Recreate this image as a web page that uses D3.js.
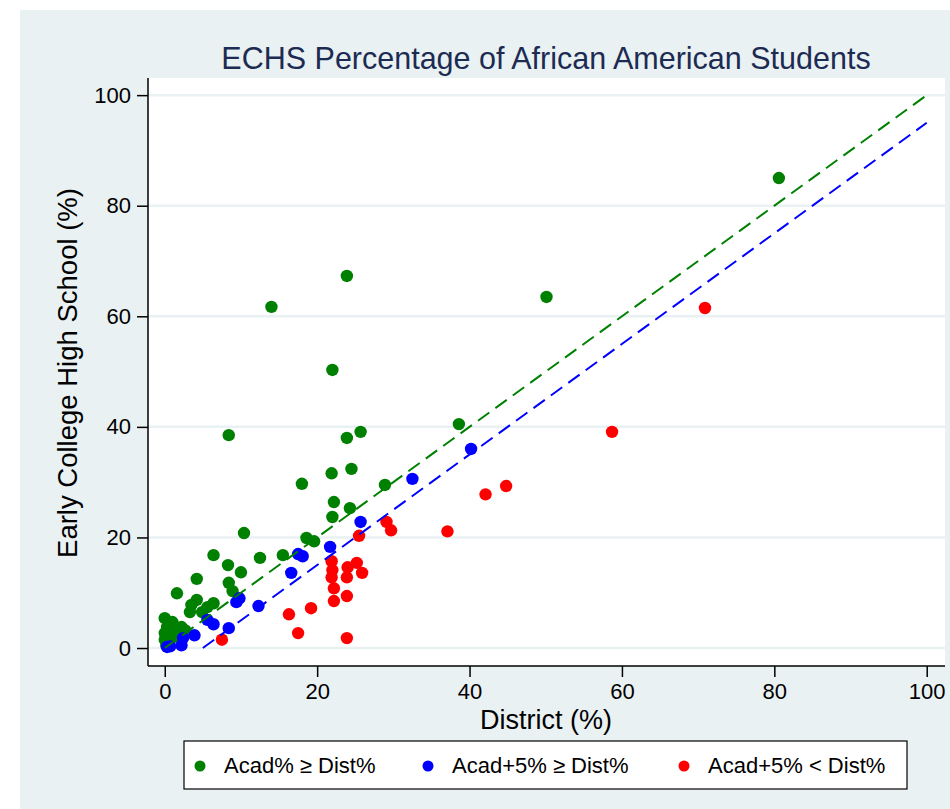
<!DOCTYPE html>
<html>
<head>
<meta charset="utf-8">
<script src="https://cdn.jsdelivr.net/npm/d3@7"></script>
<style>
  body { margin: 0; background: #fff; }
  text { font-family: "Liberation Sans", Arial, sans-serif; }
</style>
</head>
<body>
<div id="chart"></div>
<script>
// data: [district %, ECHS %]
var acadGE = [[80.6,85.0],[50.1,63.5],[23.9,67.3],[14.0,61.7],[22.0,50.3],[38.6,40.5],[8.4,38.5],[25.7,39.1],[23.9,38.0],
  [24.5,32.4],[21.9,31.6],[18.0,29.7],[28.9,29.5],[22.2,26.4],[24.3,25.3],[22.0,23.7],[10.4,20.8],[18.6,19.9],[19.6,19.3],
  [15.5,16.8],[12.5,16.3],[6.4,16.8],[8.3,15.0],[10.0,13.7],[4.2,12.5],[8.4,11.8],[8.9,10.3],[1.6,9.9],
  [4.2,8.7],[3.5,7.8],[6.4,8.1],[5.6,7.4],[3.3,6.5],[4.9,6.5],[0.0,5.4],[1.0,4.7],[0.3,3.8],[2.2,3.8],[0.0,2.7],
  [1.6,2.9],[0.4,1.4],[0.0,1.5],[0.2,0.5],[1.2,2.0],[2.7,3.2],[0.8,3.0],[0.5,4.3]];
var acad5GE = [[40.2,36.0],[32.5,30.6],[25.7,22.8],[21.7,18.3],[17.5,17.0],[18.1,16.6],[16.6,13.6],[12.3,7.6],[9.8,9.0],
  [9.4,8.3],[8.4,3.6],[6.4,4.3],[5.6,5.1],[3.9,2.3],[2.4,1.8],[2.2,0.5],[0.3,0.2],[0.7,0.3]];
var acad5LT = [[70.9,61.5],[58.7,39.1],[44.8,29.3],[42.1,27.8],[37.1,21.1],[29.1,22.8],[29.7,21.3],[25.5,20.3],[21.9,15.7],
  [22.0,14.1],[21.9,12.8],[24.0,14.6],[25.2,15.4],[23.9,12.8],[25.9,13.6],[22.2,10.8],[22.2,8.5],[23.9,9.4],[19.2,7.2],
  [16.3,6.1],[17.5,2.7],[23.9,1.8],[7.5,1.5]];

// reference lines
var equalLine = [[0,0],[100,100]];
var plus5Line = [[5,0],[100,95]];

var tickVals = [0, 20, 40, 60, 80, 100];
var legendLabels = ["Acad% \u2265 Dist%", "Acad+5% \u2265 Dist%", "Acad+5% < Dist%"];
var groupColors = ["#008000", "#0000ff", "#ff0000"];

var W = 950, H = 809;
var plot = {left: 148, top: 78, right: 945, bottom: 666};
var bg = "#eaf1f3";

var svg = d3.select("#chart").append("svg")
  .attr("width", W).attr("height", H);

svg.append("rect").attr("x", 20).attr("y", 10)
  .attr("width", W - 20).attr("height", H - 10).attr("fill", bg);

svg.append("rect")
  .attr("x", plot.left).attr("y", plot.top)
  .attr("width", plot.right - plot.left).attr("height", plot.bottom - plot.top)
  .attr("fill", "#fff");

var x = d3.scaleLinear().domain([-2.2, 102.4]).range([plot.left, plot.right]);
var y = d3.scaleLinear().domain([-3.25, 103.1]).range([plot.bottom, plot.top]);

// gridlines
svg.append("g").selectAll("line")
  .data(tickVals).join("line")
  .attr("x1", plot.left).attr("x2", plot.right)
  .attr("y1", d => y(d)).attr("y2", d => y(d))
  .attr("stroke", bg).attr("stroke-width", 2.5);

// axes
var yAxis = svg.append("g")
  .attr("transform", "translate(" + plot.left + ",0)")
  .call(d3.axisLeft(y).tickValues(tickVals).tickSize(11).tickPadding(6).tickSizeOuter(0));
var xAxis = svg.append("g")
  .attr("transform", "translate(0," + plot.bottom + ")")
  .call(d3.axisBottom(x).tickValues(tickVals).tickSize(11).tickPadding(6).tickSizeOuter(0));
[xAxis, yAxis].forEach(function(a) {
  a.select(".domain").attr("stroke", "#000").attr("stroke-width", 1.5);
  a.selectAll(".tick line").attr("stroke", "#000").attr("stroke-width", 1.5);
  a.selectAll(".tick text").attr("font-size", 22).attr("fill", "#000")
    .attr("font-family", "Liberation Sans, Arial, sans-serif");
});
// axis domain should span the whole plot region
yAxis.select(".domain").attr("d", "M0," + (plot.bottom) + "V" + plot.top);
xAxis.select(".domain").attr("d", "M" + plot.left + ",0H" + plot.right);

// points
var groups = [acadGE, acad5GE, acad5LT];
groups.forEach(function(g, i) {
  svg.append("g").selectAll("circle")
    .data(g).join("circle")
    .attr("cx", d => x(d[0]))
    .attr("cy", d => y(d[1]))
    .attr("r", 6.2)
    .attr("fill", groupColors[i]);
});

// dashed reference lines
var line = d3.line().x(d => x(d[0])).y(d => y(d[1]));
svg.append("path").datum(equalLine).attr("d", line)
  .attr("fill", "none").attr("stroke", groupColors[0]).attr("stroke-width", 2)
  .attr("stroke-dasharray", "14,7.5");
svg.append("path").datum(plus5Line).attr("d", line)
  .attr("fill", "none").attr("stroke", groupColors[1]).attr("stroke-width", 2)
  .attr("stroke-dasharray", "14,7.5");

// titles
svg.append("text").attr("x", 546).attr("y", 69)
  .attr("text-anchor", "middle").attr("font-size", 30.5).attr("fill", "#1c2b52")
  .text("ECHS Percentage of African American Students");
svg.append("text").attr("x", 546).attr("y", 729)
  .attr("text-anchor", "middle").attr("font-size", 27).attr("fill", "#000")
  .text("District (%)");
svg.append("text")
  .attr("transform", "translate(77,373) rotate(-90)")
  .attr("text-anchor", "middle").attr("font-size", 27.5).attr("fill", "#000")
  .text("Early College High School (%)");

// legend
var leg = svg.append("g");
leg.append("rect").attr("x", 184).attr("y", 741).attr("width", 723).attr("height", 48)
  .attr("fill", "#fff").attr("stroke", "#000").attr("stroke-width", 1.2);
var legX = [200, 428, 684];
legendLabels.forEach(function(l, i) {
  leg.append("circle").attr("cx", legX[i]).attr("cy", 766).attr("r", 5.5).attr("fill", groupColors[i]);
  leg.append("text").attr("x", legX[i] + 24).attr("y", 773)
    .attr("font-size", 22).attr("fill", "#000").text(l);
});
</script>
</body>
</html>
